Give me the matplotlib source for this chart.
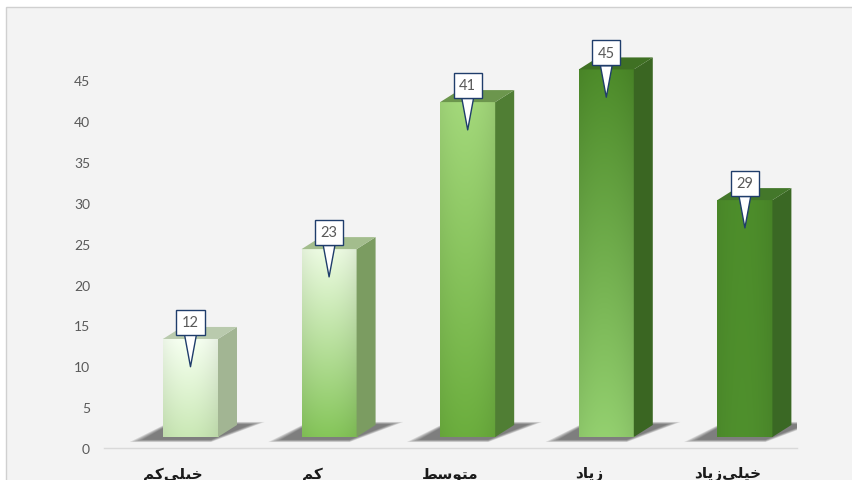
import numpy as np
import matplotlib.pyplot as plt
from matplotlib.patches import Rectangle, Polygon
from matplotlib.colors import to_rgb

# data
categories = ['خیلی‌کم', 'کم', 'متوسط', 'زیاد', 'خیلی‌زیاد']
values = [12, 23, 41, 45, 29]
yticks = [0, 5, 10, 15, 20, 25, 30, 35, 40, 45]

# bar colours: front (top / bottom), side, top face
front_top = ['#eef7e9', '#e4f2da', '#9dd076', '#4a8628', '#4a8829']
front_bot = ['#c2dfae', '#80be56', '#67a73b', '#8ec86b', '#4c8a2b']
side_col = ['#a2b593', '#7b9c61', '#507e34', '#3a6622', '#3a6824']
top_col = ['#b9caad', '#a3bd8d', '#6c964d', '#3f7023', '#43772a']

# arabic presentation forms: isolated, final, initial, medial
FORMS = {
    'خ': ('\uFEA5', '\uFEA6', '\uFEA7', '\uFEA8'),
    'ی': ('\uFBFC', '\uFBFD', '\uFBFE', '\uFBFF'),
    'ل': ('\uFEDD', '\uFEDE', '\uFEDF', '\uFEE0'),
    'ک': ('\uFB8E', '\uFB8F', '\uFB90', '\uFB91'),
    'م': ('\uFEE1', '\uFEE2', '\uFEE3', '\uFEE4'),
    'ت': ('\uFE95', '\uFE96', '\uFE97', '\uFE98'),
    'س': ('\uFEB1', '\uFEB2', '\uFEB3', '\uFEB4'),
    'ط': ('\uFEC1', '\uFEC2', '\uFEC3', '\uFEC4'),
    'و': ('\uFEED', '\uFEEE'),
    'ز': ('\uFEAF', '\uFEB0'),
    'ا': ('\uFE8D', '\uFE8E'),
    'د': ('\uFEA9', '\uFEAA'),
}


def shape(word):
    out = []
    for i, c in enumerate(word):
        if c not in FORMS:
            if c != '\u200c':
                out.append(c)
            continue
        prev = word[i - 1] if i > 0 else ''
        nxt = word[i + 1] if i + 1 < len(word) else ''
        jp = prev in FORMS and len(FORMS[prev]) == 4
        jn = nxt in FORMS and len(FORMS[c]) == 4
        f = FORMS[c]
        if jp and jn:
            out.append(f[3])
        elif jp:
            out.append(f[1])
        elif jn:
            out.append(f[2])
        else:
            out.append(f[0])
    return ''.join(reversed(out))


fig = plt.figure(figsize=(8.52, 4.81), dpi=100)
fig.patch.set_facecolor('white')
fig.add_artist(Rectangle((6 / 852, -0.01), 1.0, (481 - 8) / 481 + 0.01,
                         transform=fig.transFigure, fc='#f3f3f3',
                         ec='#d0d0d0', lw=1, zorder=0))

ax = fig.add_axes([104 / 852, 32 / 481, 693 / 852, 419 / 481])
ax.set_facecolor('none')

# 3d look
shift = 0.124
w = 0.397
dx = 0.137
dy = 1.47
base = 1.35

for i, v in enumerate(values):
    xc = i + shift
    xl, xr = xc - w / 2, xc + w / 2
    top = base + v

    # soft floor shadow
    for k in range(6):
        g = 0.018 * (5 - k)
        pts = [(xl - 0.15 - g, base - 0.35 - g * 3), (xr - 0.05, base - 0.35 - g * 3),
               (xr + dx + 0.11 + g, base + dy + 0.1 + g * 3), (xl + 0.05, base + dy + 0.1 + g * 3)]
        ax.add_patch(Polygon(pts, closed=True, fc='#202020', ec='none',
                             alpha=0.12, zorder=1))

    # front face with gradient
    t = np.linspace(0, 1, 120)[:, None, None]
    u = np.linspace(0, 1, 50)[None, :, None]
    c0 = np.array(to_rgb(front_bot[i]))
    c1 = np.array(to_rgb(front_top[i]))
    img = c0 + (c1 - c0) * t
    sh = 1.0 + 0.08 * (1 - ((u - 0.45) / 0.55) ** 2) - 0.04
    img = np.clip(img * sh, 0, 1)
    ax.imshow(img, extent=(xl, xr, base, top), origin='lower',
              aspect='auto', interpolation='bilinear', zorder=3)

    # side and top faces
    ax.add_patch(Polygon([(xr, base), (xr + dx, base + dy), (xr + dx, top + dy), (xr, top)],
                         closed=True, fc=side_col[i], ec='none', zorder=3))
    ax.add_patch(Polygon([(xl, top), (xl + dx, top + dy), (xr + dx, top + dy), (xr, top)],
                         closed=True, fc=top_col[i], ec='none', zorder=3))

    # callout label
    ax.annotate(str(v), xy=(xc, top - 3.4), xytext=(0, 32), textcoords='offset points',
                ha='center', va='center', fontsize=10.5, color='#595959', family='Lato',
                bbox=dict(boxstyle='square,pad=0.38', fc='white', ec='#1f3d6b', lw=1.0),
                arrowprops=dict(arrowstyle='wedge,tail_width=0.8,shrink_factor=0.5',
                                fc='white', ec='#1f3d6b', lw=1.0,
                                shrinkA=0, shrinkB=0),
                zorder=5)

ax.set_xlim(-0.5, 4.5)
ax.set_ylim(0, 51.3)

ax.set_yticks(yticks)
ax.set_xticks(range(len(categories)))
ax.set_xticklabels([shape(c) for c in categories], fontsize=11, fontweight='bold',
                   color='#1a1a1a', family='DejaVu Sans')
for lab in ax.get_yticklabels():
    lab.set_family('Lato')
ax.tick_params(axis='y', length=0, pad=10, labelcolor='#595959', labelsize=10)
ax.tick_params(axis='x', length=0, pad=13)

for s in ['top', 'right', 'left']:
    ax.spines[s].set_visible(False)
ax.spines['bottom'].set_color('#d9d9d9')
ax.spines['bottom'].set_linewidth(1)

plt.savefig('out.png', dpi=100, facecolor=fig.get_facecolor())
